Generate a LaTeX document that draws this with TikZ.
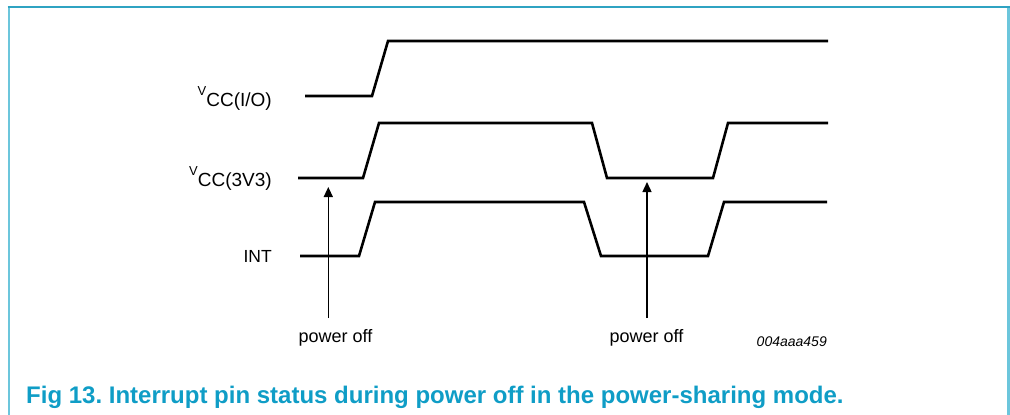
\documentclass[tikz,border=0pt]{standalone}
\usepackage{fontspec}
\setmainfont{Liberation Sans}
\usepackage{xcolor}
\usepackage{tikz}
\usetikzlibrary{arrows.meta, positioning, calc}
\definecolor{nxpteal}{HTML}{0F9DC6}
\definecolor{frametop}{HTML}{2FA3C2}
\definecolor{frameside}{HTML}{6CC6DC}
\tikzset{
  wave/.style={line width=2.6pt, line join=miter},
  siglabel/.style={font=\fontsize{17.5}{20}\selectfont, inner sep=0pt},
  supplabel/.style={font=\fontsize{19}{22}\selectfont, inner sep=0pt},
  note/.style={font=\fontsize{18}{20}\selectfont, inner sep=0pt},
  tag/.style={font=\fontsize{14}{16}\selectfont\itshape, inner sep=0pt},
  caption/.style={font=\fontsize{24}{28}\selectfont\bfseries, text=nxpteal,
    inner sep=0pt, anchor=base west},
  ar/.style={-{Triangle[length=10pt, width=9pt]}, line width=1.4pt},
}
\newcommand{\vsub}[1]{\raisebox{11.5pt}{\fontsize{13}{15}\selectfont V}#1}

\begin{document}
\begin{tikzpicture}[x=1pt, y=-1pt]
  \useasboundingbox (0,0) rectangle (1010,415);

  % frame
  \draw[frameside, line width=2pt] (8.5,7) -- (8.5,415);
  \draw[frameside, line width=2.4pt] (1008.5,7) -- (1008.5,415);
  \draw[frametop, line width=1.6pt] (7.5,7) -- (1009.5,7);

  % signal names
  \node[supplabel, anchor=base east] (vio) at (272,106.7) {\vsub{CC(I/O)}};
  \node[supplabel, anchor=base east] (v3v3) at (272,186.7) {\vsub{CC(3V3)}};
  \node[siglabel, anchor=base east] (int) at (272,262.5) {INT};

  % waveforms
  \draw[wave] (305,96) -- (372,96) -- (388,41) -- (828,41);
  \draw[wave] (298,178) -- (363,178) -- (379,123) -- (592,123)
    -- (607,178) -- (713,178) -- (728,123) -- (828,123);
  \draw[wave] (300,256) -- (359,256) -- (375,202) -- (584,202)
    -- (601,256) -- (708,256) -- (724,202) -- (827,202);

  % power off markers
  \node[note, anchor=base] (poff1) at (335.5,342) {power off};
  \node[note, anchor=base] (poff2) at (646.5,342) {power off};
  \coordinate (foot1) at (328.3,318);
  \coordinate (foot2) at (647,318);
  \coordinate (tip1) at (328.3,187);
  \coordinate (tip2) at (647,182);
  \draw[ar] (foot1) -- (tip1);
  \draw[ar] (foot2) -- (tip2);

  \node[tag, anchor=base east] (code) at (827,346.5) {004aaa459};

  \node[caption] (cap) at (26,403)
    {Fig 13.\ Interrupt pin status during power off in the power-sharing mode.};
\end{tikzpicture}
\end{document}
